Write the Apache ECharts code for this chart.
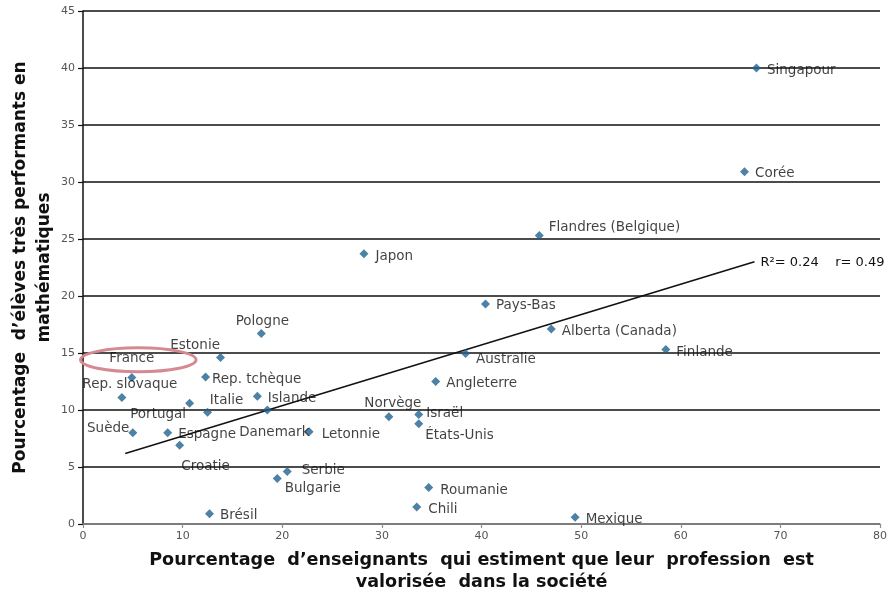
<!DOCTYPE html>
<html>
<head>
<meta charset="utf-8">
<script src="https://cdn.jsdelivr.net/npm/echarts@6/dist/echarts.min.js"></script>
<style>html,body{margin:0;padding:0;background:#fff;}#c{width:890px;height:594px;}</style>
</head>
<body>
<div id="c"></div>
<script>
// ---- data ----
const countries = ["Singapour","Corée","Flandres (Belgique)","Japon","Pays-Bas","Alberta (Canada)","Finlande","Australie","Angleterre","Pologne","Estonie","Rep. tchèque","France","Rep. slovaque","Portugal","Italie","Islande","Danemark","Letonnie","Suède","Espagne","Croatie","Serbie","Bulgarie","Brésil","Norvège","Israël","États-Unis","Roumanie","Chili","Mexique"];
const teachersValued = [67.6,66.4,45.8,28.2,40.4,47.0,58.5,38.4,35.4,17.9,13.8,12.3,4.9,3.9,10.7,12.5,17.5,18.5,22.7,5.0,8.5,9.7,20.5,19.5,12.7,30.7,33.7,33.7,34.7,33.5,49.4];
const topPerformers = [40.0,30.9,25.3,23.7,19.3,17.1,15.3,14.95,12.5,16.7,14.6,12.9,12.85,11.1,10.6,9.8,11.2,10.0,8.1,8.0,8.0,6.9,4.6,4.0,0.9,9.4,9.6,8.8,3.2,1.5,0.6];
const trendX = [4.24, 67.4];
const trendY = [6.18, 23.0];
const trendLabel = "R²= 0.24    r= 0.49";
const xTicks = [0,10,20,30,40,50,60,70,80];
const yTicks = [0,5,10,15,20,25,30,35,40,45];
const highlighted = "France";

// ---- label placement (style) ----
const labelPlace = {
  "Flandres (Belgique)": {position:"right", offset:[0,-8]},
  "Australie": {position:"right", offset:[1,6]},
  "Pologne": {position:"top", offset:[1,4]},
  "Estonie": {position:"left", offset:[9,-12]},
  "Rep. tchèque": {position:"right", offset:[-3,3]},
  "France": {position:"top", offset:[0,-3]},
  "Rep. slovaque": {position:"top", offset:[8,4]},
  "Portugal": {position:"left", offset:[6,11]},
  "Italie": {position:"top", offset:[19,5]},
  "Danemark": {position:"bottom", offset:[7,6]},
  "Suède": {position:"left", offset:[6,-4]},
  "Croatie": {position:"bottom", offset:[26,5]},
  "Serbie": {position:"right", offset:[5,-1]},
  "Bulgarie": {position:"right", offset:[-2,10]},
  "Norvège": {position:"top", offset:[4,3]},
  "Israël": {position:"right", offset:[-2,-1]},
  "États-Unis": {position:"right", offset:[-3,12]},
  "Letonnie": {position:"right", offset:[3,3]},
  "Roumanie": {position:"right", offset:[2,3]},
  "Chili": {position:"right", offset:[2,3]},
  "Finlande": {position:"right", offset:[1,3]},
  "Japon": {position:"right", offset:[2,3]}
};

const pts = countries.map((n,i)=>{
  const p = labelPlace[n] || {position:"right", offset:[1,2]};
  return {name:n, value:[teachersValued[i], topPerformers[i]], label:{position:p.position, offset:p.offset}};
});

const chart = echarts.init(document.getElementById('c'), null, {renderer:'canvas'});
const FONT = "DejaVu Sans";
chart.setOption({
  animation:false,
  backgroundColor:'#fff',
  grid:{left:83, right:10, top:11, bottom:70, outerBoundsMode:'none', containLabel:false},
  xAxis:{
    type:'value', min:xTicks[0], max:xTicks[xTicks.length-1], interval:10,
    axisLine:{show:true, onZero:false, lineStyle:{color:'#8c8c8c', width:1.5}},
    axisTick:{show:true, length:4, lineStyle:{color:'#8c8c8c', width:1.2}},
    axisLabel:{color:'#555', fontFamily:FONT, fontSize:11, margin:7},
    splitLine:{show:false},
    name:"Pourcentage  d’enseignants  qui estiment que leur  profession  est\nvalorisée  dans la société",
    nameLocation:'middle', nameGap:25,
    nameTextStyle:{fontFamily:FONT, fontWeight:'bold', fontSize:17.6, color:'#111', lineHeight:22}
  },
  yAxis:{
    type:'value', min:yTicks[0], max:yTicks[yTicks.length-1], interval:5,
    axisLine:{show:true, onZero:false, lineStyle:{color:'#111', width:1.5}},
    axisTick:{show:true, inside:false, length:5, lineStyle:{color:'#111', width:1.2}},
    axisLabel:{color:'#555', fontFamily:FONT, fontSize:11, margin:8},
    splitLine:{show:true, lineStyle:{color:'#111', width:1.7}},
    name:"Pourcentage  d’élèves très performants en\nmathématiques",
    nameLocation:'middle', nameGap:26, nameRotate:90, nameMoveOverlap:false,
    nameTextStyle:{fontFamily:FONT, fontWeight:'bold', fontSize:17, color:'#111', lineHeight:24}
  },
  series:[
    {
      type:'line', data:trendX.map((x,i)=>[x,trendY[i]]),
      symbol:'none', lineStyle:{color:'#111', width:1.5}, z:3,
      endLabel:{show:true, formatter:trendLabel, color:'#111', fontFamily:FONT, fontSize:13, distance:6, offset:[0,1]},
      silent:true
    },
    {
      type:'scatter', data:pts, symbol:'diamond', symbolSize:9,
      itemStyle:{color:'#21618f'}, z:4,
      label:{show:true, formatter:'{b}', color:'#111', fontFamily:FONT, fontSize:13.5, distance:5}
    }
  ]
});

// highlight ellipse around France label
const fi = countries.indexOf(highlighted);
const c = chart.convertToPixel({gridIndex:0}, [teachersValued[fi]+0.65, topPerformers[fi]+1.55]);
const r0 = chart.convertToPixel({gridIndex:0}, [0,0]);
const r1 = chart.convertToPixel({gridIndex:0}, [5.8,1.05]);
chart.setOption({
  graphic:[{type:'ellipse', shape:{cx:c[0], cy:c[1], rx:r1[0]-r0[0], ry:r0[1]-r1[1]},
    style:{fill:null, stroke:'#d48a90', lineWidth:3}, z:10}]
});
</script>
</body>
</html>
